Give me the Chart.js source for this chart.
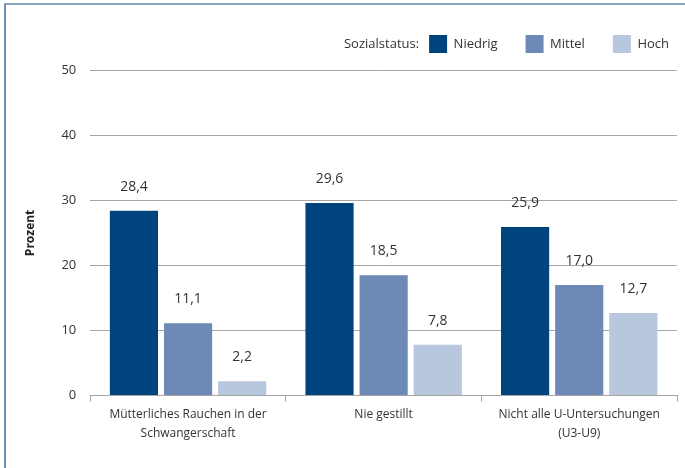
<!DOCTYPE html>
<html>
<head>
<meta charset="utf-8">
<script src="https://cdn.jsdelivr.net/npm/chart.js@4.4.1/dist/chart.umd.min.js"></script>
<style>
  body { margin: 0; background: #fff; }
  #frame { position: absolute; left: 4px; top: 3px; width: 700px; height: 500px;
           border-left: 2px solid #6f8fb5; border-top: 2px solid #8aa4c4; }
  #wrap { position: absolute; left: 0; top: 0; width: 685px; height: 468px; }
</style>
</head>
<body>
<div id="frame"></div>
<div id="wrap"><canvas id="chart" width="685" height="468"></canvas></div>
<script>
const categories = [
  ["Mütterliches Rauchen in der", "Schwangerschaft"],
  "Nie gestillt",
  ["Nicht alle U-Untersuchungen", "(U3-U9)"]
];
const seriesNames = ["Niedrig", "Mittel", "Hoch"];
const niedrig = [28.4, 29.6, 25.9];
const mittel = [11.1, 18.5, 17.0];
const hoch = [2.2, 7.8, 12.7];
const yTicks = [0, 10, 20, 30, 40, 50];

const colors = ["#00437d", "#6d8ab6", "#b8c6de"];
const fontFamily = "'Open Sans', 'Noto Sans', sans-serif";

const valueLabels = {
  id: "valueLabels",
  afterDatasetsDraw(chart) {
    const ctx = chart.ctx;
    ctx.save();
    ctx.font = "14px " + fontFamily;
    ctx.fillStyle = "#333";
    ctx.textAlign = "center";
    ctx.textBaseline = "middle";
    chart.data.datasets.forEach((ds, i) => {
      chart.getDatasetMeta(i).data.forEach((bar, j) => {
        ctx.fillText(ds.data[j].toFixed(1).replace(".", ","), bar.x, bar.y - 24);
      });
    });
    ctx.restore();
  }
};

const legendTitle = {
  id: "legendTitle",
  afterLayout(chart) {
    chart.legend.right = chart.width + 12;
  },
  afterDraw(chart) {
    const boxes = chart.legend.legendHitBoxes;
    if (!boxes || !boxes.length) return;
    const ctx = chart.ctx;
    ctx.save();
    ctx.font = "13px " + fontFamily;
    ctx.fillStyle = "#333";
    ctx.textAlign = "right";
    ctx.textBaseline = "middle";
    ctx.fillText("Sozialstatus:", boxes[0].left - 10, boxes[0].top + boxes[0].height / 2);
    ctx.restore();
  }
};

new Chart(document.getElementById("chart"), {
  type: "bar",
  data: {
    labels: categories,
    datasets: [
      { label: seriesNames[0], data: niedrig, backgroundColor: colors[0] },
      { label: seriesNames[1], data: mittel, backgroundColor: colors[1] },
      { label: seriesNames[2], data: hoch, backgroundColor: colors[2] }
    ]
  },
  options: {
    responsive: false,
    animation: false,
    layout: { padding: { top: 7, right: 8, left: 13, bottom: 22 } },
    datasets: { bar: { categoryPercentage: 0.83, barPercentage: 0.89 } },
    plugins: {
      legend: {
        position: "top",
        align: "end",
        labels: {
          boxWidth: 18, boxHeight: 18, padding: 28,
          color: "#333",
          font: { family: fontFamily, size: 13 }
        }
      },
      // empty spacer between legend and plot
      subtitle: {
        display: true, text: "", weight: 500,
        font: { size: 1 }, padding: { top: 0, bottom: 6 }
      },
      tooltip: { enabled: false }
    },
    scales: {
      x: {
        grid: { offset: true, drawOnChartArea: false, tickLength: 6, color: "#a6a6a6" },
        border: { color: "#a6a6a6" },
        ticks: { color: "#333", font: { family: fontFamily, size: 12, lineHeight: 1.6 }, padding: 3, maxRotation: 0 }
      },
      y: {
        min: 0, max: 50,
        afterBuildTicks(axis) { axis.ticks = yTicks.map(v => ({ value: v })); },
        grid: { drawTicks: false, color: "#a6a6a6" },
        border: { display: false },
        ticks: { color: "#333", font: { family: fontFamily, size: 13 }, padding: 14 },
        title: {
          display: true, text: "Prozent", color: "#222",
          font: { family: fontFamily, size: 12, weight: "bold" }, padding: 10
        }
      }
    }
  },
  plugins: [valueLabels, legendTitle]
});
</script>
</body>
</html>
